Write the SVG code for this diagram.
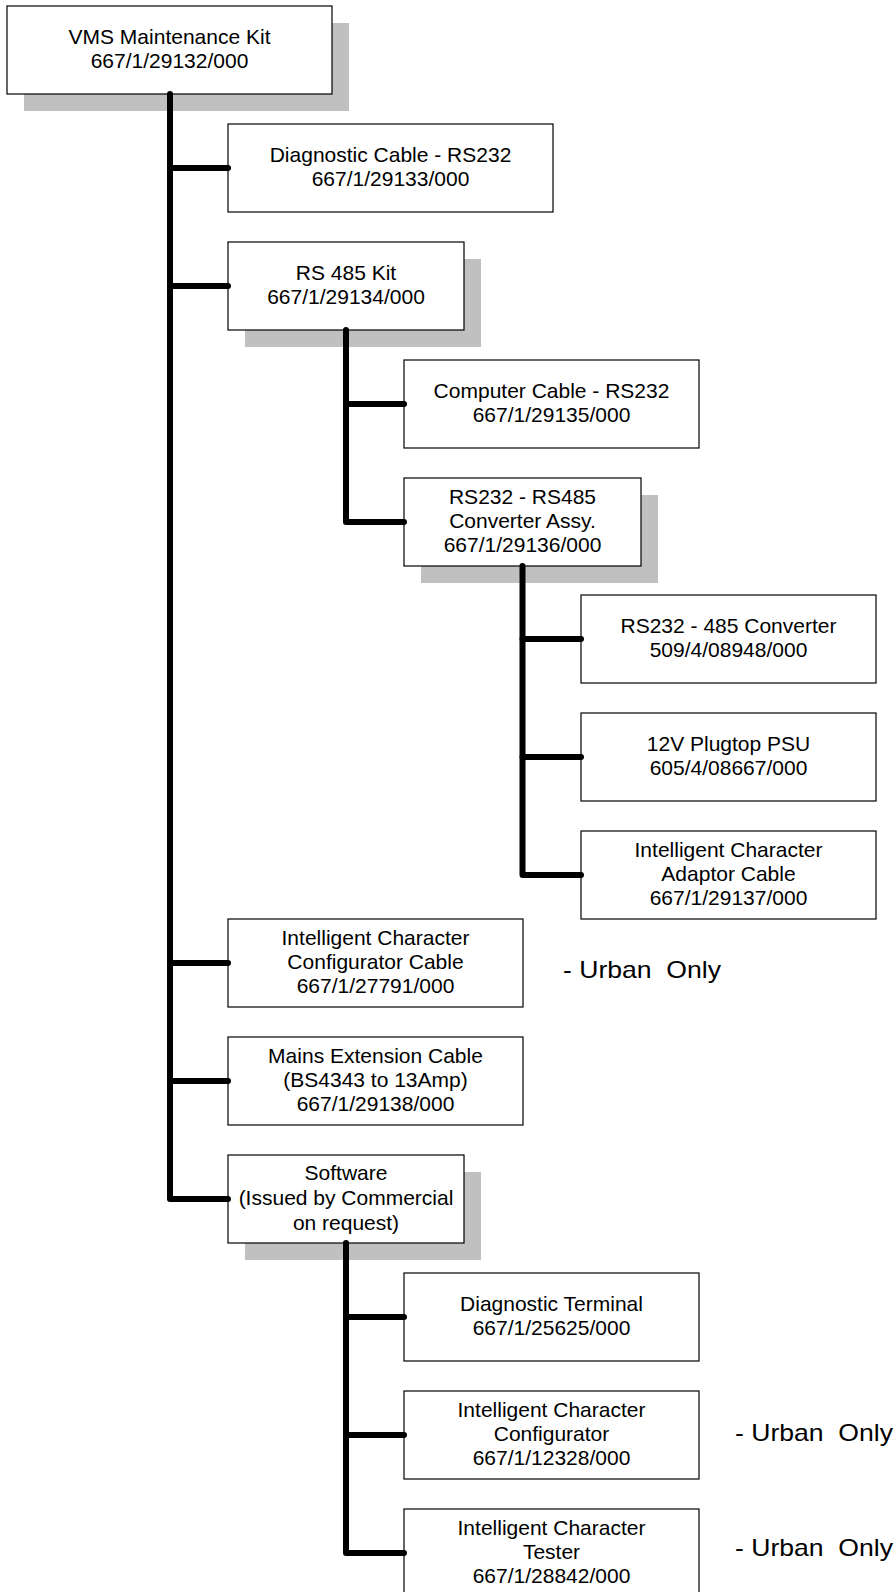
<svg xmlns="http://www.w3.org/2000/svg" width="896" height="1592" viewBox="0 0 896 1592">
  <style>
    .shadow { fill: #c0c0c0; }
    .box { fill: #ffffff; stroke: #000000; stroke-width: 1.2; }
    .label { font-family: "Liberation Sans", Arial, sans-serif; font-size: 21px; fill: #000000; text-anchor: middle; }
    .note { font-family: "Liberation Sans", Arial, sans-serif; font-size: 24px; fill: #000000; }
    .link { fill: none; stroke: #000000; stroke-width: 6; stroke-linecap: round; stroke-linejoin: round; }
  </style>

  <rect width="896" height="1592" fill="#ffffff"/>

  <!-- drop shadows of the kit/assembly boxes -->
  <g id="shadows">
    <rect class="shadow" x="24" y="23" width="325" height="88"/>
    <rect class="shadow" x="245" y="259" width="236" height="88"/>
    <rect class="shadow" x="421" y="495" width="237" height="88"/>
    <rect class="shadow" x="245" y="1172" width="236" height="88"/>
  </g>

  <g id="vms-kit">
    <rect class="box" x="7" y="6" width="325" height="88"/>
    <text class="label" x="169.5" y="44">VMS Maintenance Kit</text>
    <text class="label" x="169.5" y="68">667/1/29132/000</text>
  </g>

  <g id="diagnostic-cable">
    <rect class="box" x="228" y="124" width="325" height="88"/>
    <text class="label" x="390.5" y="162">Diagnostic Cable - RS232</text>
    <text class="label" x="390.5" y="186">667/1/29133/000</text>
  </g>

  <g id="rs485-kit">
    <rect class="box" x="228" y="242" width="236" height="88"/>
    <text class="label" x="346" y="280">RS 485 Kit</text>
    <text class="label" x="346" y="304">667/1/29134/000</text>
  </g>

  <g id="computer-cable">
    <rect class="box" x="404" y="360" width="295" height="88"/>
    <text class="label" x="551.5" y="398">Computer Cable - RS232</text>
    <text class="label" x="551.5" y="422">667/1/29135/000</text>
  </g>

  <g id="converter-assy">
    <rect class="box" x="404" y="478" width="237" height="88"/>
    <text class="label" x="522.5" y="504">RS232 - RS485</text>
    <text class="label" x="522.5" y="528">Converter Assy.</text>
    <text class="label" x="522.5" y="552">667/1/29136/000</text>
  </g>

  <g id="converter">
    <rect class="box" x="581" y="595" width="295" height="88"/>
    <text class="label" x="728.5" y="633">RS232 - 485 Converter</text>
    <text class="label" x="728.5" y="657">509/4/08948/000</text>
  </g>

  <g id="plugtop-psu">
    <rect class="box" x="581" y="713" width="295" height="88"/>
    <text class="label" x="728.5" y="751">12V Plugtop PSU</text>
    <text class="label" x="728.5" y="775">605/4/08667/000</text>
  </g>

  <g id="adaptor-cable">
    <rect class="box" x="581" y="831" width="295" height="88"/>
    <text class="label" x="728.5" y="857">Intelligent Character</text>
    <text class="label" x="728.5" y="881">Adaptor Cable</text>
    <text class="label" x="728.5" y="905">667/1/29137/000</text>
  </g>

  <g id="configurator-cable">
    <rect class="box" x="228" y="919" width="295" height="88"/>
    <text class="label" x="375.5" y="945">Intelligent Character</text>
    <text class="label" x="375.5" y="969">Configurator Cable</text>
    <text class="label" x="375.5" y="993">667/1/27791/000</text>
    <text class="note" x="563" y="978" xml:space="preserve" textLength="158" lengthAdjust="spacingAndGlyphs">- Urban  Only</text>
  </g>

  <g id="mains-cable">
    <rect class="box" x="228" y="1037" width="295" height="88"/>
    <text class="label" x="375.5" y="1063">Mains Extension Cable</text>
    <text class="label" x="375.5" y="1087">(BS4343 to 13Amp)</text>
    <text class="label" x="375.5" y="1111">667/1/29138/000</text>
  </g>

  <g id="software">
    <rect class="box" x="228" y="1155" width="236" height="88"/>
    <text class="label" x="346" y="1180">Software</text>
    <text class="label" x="346" y="1205">(Issued by Commercial</text>
    <text class="label" x="346" y="1230">on request)</text>
  </g>

  <g id="diagnostic-terminal">
    <rect class="box" x="404" y="1273" width="295" height="88"/>
    <text class="label" x="551.5" y="1311">Diagnostic Terminal</text>
    <text class="label" x="551.5" y="1335">667/1/25625/000</text>
  </g>

  <g id="character-configurator">
    <rect class="box" x="404" y="1391" width="295" height="88"/>
    <text class="label" x="551.5" y="1417">Intelligent Character</text>
    <text class="label" x="551.5" y="1441">Configurator</text>
    <text class="label" x="551.5" y="1465">667/1/12328/000</text>
    <text class="note" x="735" y="1441" xml:space="preserve" textLength="158" lengthAdjust="spacingAndGlyphs">- Urban  Only</text>
  </g>

  <g id="character-tester">
    <rect class="box" x="404" y="1509" width="295" height="88"/>
    <text class="label" x="551.5" y="1535">Intelligent Character</text>
    <text class="label" x="551.5" y="1559">Tester</text>
    <text class="label" x="551.5" y="1583">667/1/28842/000</text>
    <text class="note" x="735" y="1556" xml:space="preserve" textLength="158" lengthAdjust="spacingAndGlyphs">- Urban  Only</text>
  </g>

  <!-- tree connectors: one trunk per parent with a branch to each child -->
  <g id="connectors">
    <path class="link" d="M170 94 V1199 H228"/>
    <path class="link" d="M170 168 H228"/>
    <path class="link" d="M170 286 H228"/>
    <path class="link" d="M170 963 H228"/>
    <path class="link" d="M170 1081 H228"/>

    <path class="link" d="M346 330 V522 H404"/>
    <path class="link" d="M346 404 H404"/>

    <path class="link" d="M522.5 566 V875 H581"/>
    <path class="link" d="M522.5 639 H581"/>
    <path class="link" d="M522.5 757 H581"/>

    <path class="link" d="M346 1243 V1553 H404"/>
    <path class="link" d="M346 1317 H404"/>
    <path class="link" d="M346 1435 H404"/>
  </g>
</svg>
